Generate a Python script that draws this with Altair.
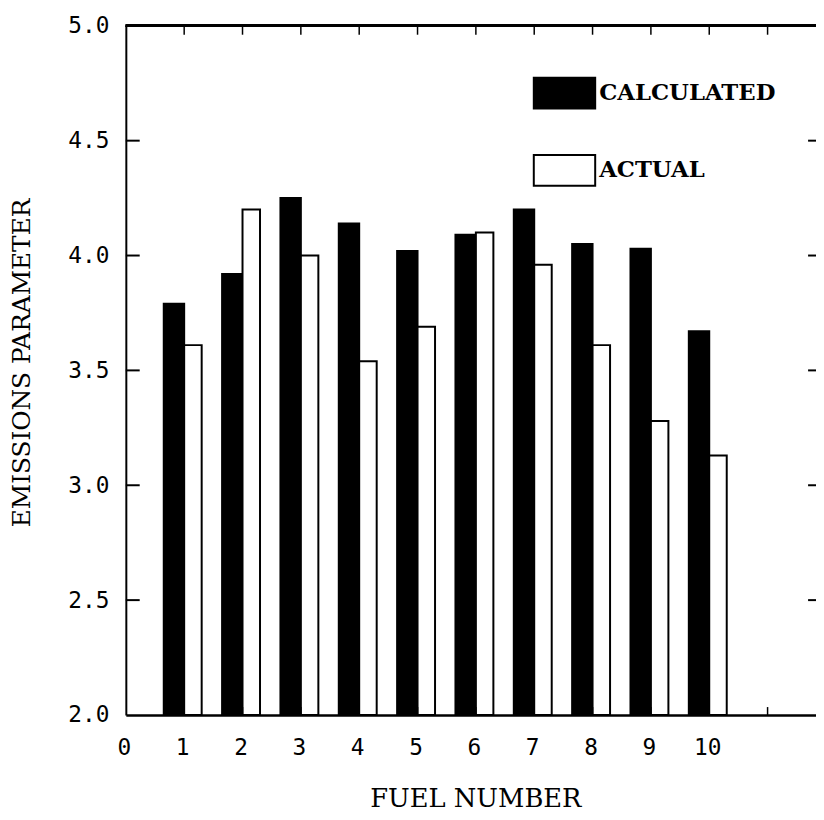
import altair as alt
import pandas as pd

# ---- data ----
fuel = [1, 2, 3, 4, 5, 6, 7, 8, 9, 10]
calculated = [3.79, 3.92, 4.25, 4.14, 4.02, 4.09, 4.20, 4.05, 4.03, 3.67]
actual = [3.61, 4.20, 4.00, 3.54, 3.69, 4.10, 3.96, 3.61, 3.28, 3.13]
series_names = ["CALCULATED", "ACTUAL"]
series_colors = ["black", "white"]
y_tick_values = [2.0, 2.5, 3.0, 3.5, 4.0, 4.5, 5.0]
x_label_values = [0, 1, 2, 3, 4, 5, 6, 7, 8, 9, 10]
x_tick_marks = [1, 2, 3, 4, 5, 6, 7, 8, 9, 10, 11]

W = 697
H = 696

rows = []
for f, v in zip(fuel, calculated):
    rows.append({"fuel": f, "series": series_names[0], "value": v})
for f, v in zip(fuel, actual):
    rows.append({"fuel": f, "series": series_names[1], "value": v})
df = pd.DataFrame(rows)

xscale = alt.Scale(domain=[0, 11.83], nice=False, zero=False)
yscale = alt.Scale(domain=[2, 5], nice=False, zero=False)

x_axis = alt.Axis(
    values=x_label_values, format="d", ticks=False, grid=False,
    domainColor="black", domainWidth=2.5,
    labelFont="DejaVu Sans Mono", labelFontSize=23, labelColor="black",
    labelPadding=22, labelFlush=False, labelOffset=-2,
    title="FUEL NUMBER", titleFont="DejaVu Serif", titleFontSize=26,
    titleFontWeight="normal", titleColor="black",
    titleX=353, titleY=92, titleBaseline="alphabetic", titleAlign="center",
)
y_axis = alt.Axis(
    values=y_tick_values, format=".1f", ticks=False, grid=False,
    domainColor="black", domainWidth=2,
    labelFont="DejaVu Sans Mono", labelFontSize=23, labelColor="black",
    labelPadding=17,
    title="EMISSIONS PARAMETER", titleFont="DejaVu Serif", titleFontSize=25,
    titleFontWeight="normal", titleColor="black",
    titleX=-105, titleY=340, titleBaseline="middle", titleAlign="center",
)

bars = alt.Chart(df).transform_calculate(
    x0="datum.series == 'CALCULATED' ? datum.fuel - 0.35 : datum.fuel",
    x1="datum.series == 'CALCULATED' ? datum.fuel : datum.fuel + 0.30",
).mark_rect(stroke="black", strokeWidth=2).encode(
    x=alt.X("x0:Q", scale=xscale, axis=x_axis),
    x2="x1:Q",
    y=alt.Y("value:Q", scale=yscale, axis=y_axis),
    y2=alt.datum(2.0),
    fill=alt.Fill("series:N", scale=alt.Scale(domain=series_names, range=series_colors),
                  legend=alt.Legend(
                      orient="none", legendX=411, legendY=36, title=None,
                      direction="vertical",
                      symbolType="M-1,-0.5H1V0.5H-1Z", symbolSize=3844,
                      symbolStrokeColor="black", symbolStrokeWidth=2,
                      labelFont="DejaVu Serif", labelFontWeight="bold",
                      labelFontSize=23, labelColor="black", labelOffset=3,
                      labelLimit=0, rowPadding=26, padding=0,
                  )),
)

inner_ticks = pd.DataFrame({"value": y_tick_values[1:-1]})
top_ticks_df = pd.DataFrame({"x0": x_tick_marks})

left_ticks = alt.Chart(inner_ticks).mark_rule(color="black", strokeWidth=2).encode(
    y=alt.Y("value:Q", scale=yscale, axis=y_axis), x=alt.value(0), x2=alt.value(14))
right_ticks = alt.Chart(inner_ticks).mark_rule(color="black", strokeWidth=2).encode(
    y=alt.Y("value:Q", scale=yscale, axis=y_axis), x=alt.value(W - 8), x2=alt.value(W))
top_ticks = alt.Chart(top_ticks_df).mark_rule(color="black", strokeWidth=1.5).encode(
    x=alt.X("x0:Q", scale=xscale, axis=x_axis), y=alt.value(0), y2=alt.value(9))
bottom_ticks = alt.Chart(top_ticks_df).mark_rule(color="black", strokeWidth=1.5).encode(
    x=alt.X("x0:Q", scale=xscale, axis=x_axis), y=alt.value(H), y2=alt.value(H - 8))
top_border = alt.Chart(top_ticks_df).mark_rule(color="black", strokeWidth=2.5).encode(
    x=alt.value(0), x2=alt.value(W), y=alt.value(0))

chart = alt.layer(bars, left_ticks, right_ticks, top_ticks, bottom_ticks, top_border).properties(
    width=W, height=H,
    autosize=alt.AutoSizeParams(type="none"),
    padding={"left": 119, "top": 14, "right": 0, "bottom": 94},
    background="white",
).configure_view(stroke=None)

chart.save("out.html", embed_options={"renderer": "svg", "actions": False})
